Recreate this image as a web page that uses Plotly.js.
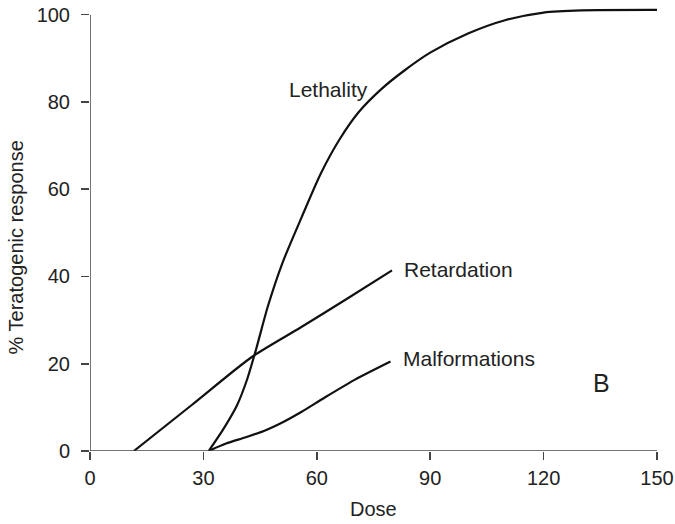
<!DOCTYPE html>
<html>
<head>
<meta charset="utf-8">
<script src="https://cdn.plot.ly/plotly-3.0.1.min.js"></script>
<style>html,body{margin:0;padding:0;background:#fff;}#chart{width:675px;height:524px;}</style>
</head>
<body>
<div id="chart"></div>
<script>
// Data
var lethalityDose = [31.4, 35.4, 38.9, 41.6, 44.0, 47.0, 51, 56, 61, 66, 71, 77, 83, 90, 100, 110, 120, 130, 150];
var lethalityResp = [0, 5.2, 10.5, 16.5, 23.5, 33.0, 43.3, 53.6, 63.5, 71.4, 77.6, 82.9, 87.1, 91.3, 95.7, 98.8, 100.5, 101.0, 101.1];
var retardationDose = [11.6, 27, 42.9, 55.7, 68, 79.9];
var retardationResp = [0, 10.6, 21.6, 28.3, 34.9, 41.4];
var malformDose = [31.4, 36, 41, 46, 51, 56, 62, 70, 79.5];
var malformResp = [0, 1.7, 3.1, 4.6, 6.6, 9.0, 12.2, 16.3, 20.5];
var xTicks = [0, 30, 60, 90, 120, 150];
var yTicks = [0, 20, 40, 60, 80, 100];
var seriesNames = ["Lethality", "Retardation", "Malformations"];

var lineStyle = {color: "#111", width: 2.2, shape: "spline", smoothing: 0.7};
var traces = [
  {x: lethalityDose, y: lethalityResp, name: seriesNames[0], mode: "lines", line: lineStyle},
  {x: retardationDose, y: retardationResp, name: seriesNames[1], mode: "lines", line: lineStyle},
  {x: malformDose, y: malformResp, name: seriesNames[2], mode: "lines", line: lineStyle}
];

var font = "Liberation Sans, Arial, sans-serif";
var layout = {
  width: 675, height: 524,
  margin: {l: 89.5, r: 18, t: 6, b: 73},
  paper_bgcolor: "#fff", plot_bgcolor: "#fff",
  showlegend: false,
  font: {family: font, size: 20, color: "#222"},
  xaxis: {
    range: [0, 150], tickvals: xTicks, ticktext: xTicks.map(String),
    showgrid: false, zeroline: false, showline: false,
    ticks: "outside", ticklen: 8, tickwidth: 1.5, tickcolor: "#444",
    ticklabelstandoff: 1,
    tickfont: {family: font, size: 20, color: "#222"},
    title: {text: ""}
  },
  yaxis: {
    range: [0, 102], tickvals: yTicks, ticktext: yTicks.map(String),
    showgrid: false, zeroline: false, showline: false,
    ticks: "outside", ticklen: 8, tickwidth: 1.5, tickcolor: "#444",
    ticklabelstandoff: 7,
    tickfont: {family: font, size: 20, color: "#222"},
    title: {text: ""}
  },
  shapes: [
    {type: "line", xref: "x", yref: "y", x0: 0, x1: 0, y0: 0, y1: yTicks[yTicks.length-1], line: {color: "#444", width: 1.5}},
    {type: "line", xref: "x", yref: "y", x0: 0, x1: xTicks[xTicks.length-1], y0: 0, y1: 0, line: {color: "#444", width: 1.5}}
  ],
  annotations: [
    {text: seriesNames[0], xref: "x", yref: "y", x: 52.0, y: 82.8, xanchor: "left", yanchor: "middle", showarrow: false, font: {family: font, size: 21, color: "#222"}},
    {text: seriesNames[1], xref: "x", yref: "y", x: 82.6, y: 41.7, xanchor: "left", yanchor: "middle", showarrow: false, font: {family: font, size: 21, color: "#222"}},
    {text: seriesNames[2], xref: "x", yref: "y", x: 82.3, y: 21.1, xanchor: "left", yanchor: "middle", showarrow: false, font: {family: font, size: 21, color: "#222"}},
    {text: "B", xref: "x", yref: "y", x: 135.4, y: 15.7, xanchor: "center", yanchor: "middle", showarrow: false, font: {family: font, size: 25, color: "#222"}},
    {text: "Dose", xref: "paper", yref: "paper", x: 0.5, y: 0, yshift: -58, xanchor: "center", yanchor: "middle", showarrow: false, font: {family: font, size: 20, color: "#222"}},
    {text: "% Teratogenic response", xref: "paper", yref: "y", x: -0.131, y: 46.6, textangle: -90, xanchor: "center", yanchor: "middle", showarrow: false, font: {family: font, size: 20, color: "#222"}}
  ]
};

Plotly.newPlot("chart", traces, layout, {displayModeBar: false, staticPlot: true});
</script>
</body>
</html>
